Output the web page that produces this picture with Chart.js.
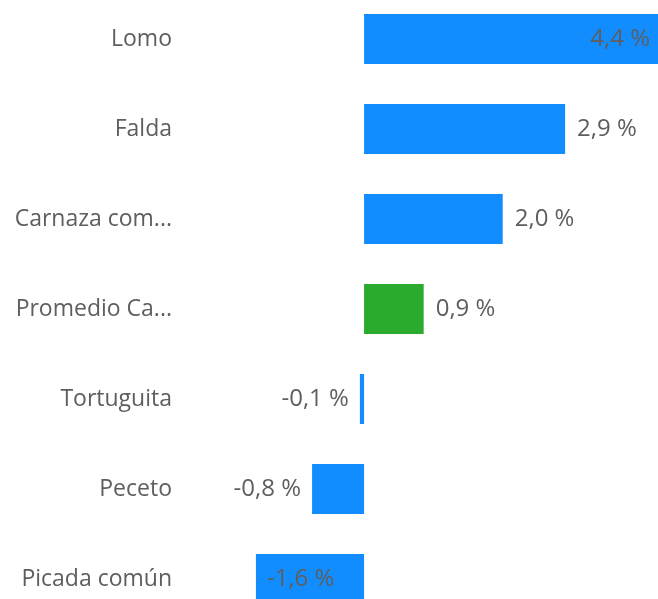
<!DOCTYPE html>
<html>
<head>
<meta charset="utf-8">
<script src="https://cdn.jsdelivr.net/npm/chart.js@4/dist/chart.umd.min.js"></script>
<style>
  html, body { margin: 0; padding: 0; background: #fff; overflow: hidden; }
  #marco { position: absolute; left: 0; top: -6px; width: 658px; height: 630px; }
</style>
</head>
<body>
<div id="marco"><canvas id="grafico" width="658" height="630"></canvas></div>
<script>
// Datos del gráfico
var categorias = ['Lomo', 'Falda', 'Carnaza com...', 'Promedio Ca...', 'Tortuguita', 'Peceto', 'Picada común'];
var variaciones = [4.4, 2.9, 2.0, 0.86, -0.06, -0.75, -1.56];

var azul = '#118DFF';
var verde = '#2AAB2E';
var gris = '#605E5C';
var fuente = '"Open Sans", "Noto Sans", sans-serif';

// Formato "4,4 %"
function formatear(v) {
    var r = Math.round(Math.abs(v) * 10) / 10;
    return (v < 0 ? '-' : '') + r.toFixed(1).replace('.', ',') + ' %';
}

// Etiquetas de datos (fuera de la barra, o dentro si no caben)
var etiquetas = {
    id: 'etiquetas',
    afterDatasetsDraw: function(chart) {
        var ctx = chart.ctx;
        var area = chart.chartArea;
        var meta = chart.getDatasetMeta(0);
        ctx.save();
        ctx.font = '24px ' + fuente;
        ctx.fillStyle = gris;
        ctx.textBaseline = 'middle';
        meta.data.forEach(function(barra, i) {
            var v = variaciones[i];
            var texto = formatear(v);
            var w = ctx.measureText(texto).width;
            if (v >= 0) {
                var x = barra.x + 12;
                if (x + w > area.right) {
                    ctx.textAlign = 'right';
                    ctx.fillText(texto, Math.min(barra.x, area.right) - 8, barra.y);
                } else {
                    ctx.textAlign = 'left';
                    ctx.fillText(texto, x, barra.y);
                }
            } else {
                var x2 = barra.x - 11;
                if (x2 - w < area.left) {
                    ctx.textAlign = 'left';
                    ctx.fillText(texto, Math.max(barra.x, area.left) + 11, barra.y);
                } else {
                    ctx.textAlign = 'right';
                    ctx.fillText(texto, x2, barra.y);
                }
            }
        });
        ctx.restore();
    }
};

new Chart('grafico', {
    type: 'bar',
    data: {
        labels: categorias,
        datasets: [{
            data: variaciones,
            backgroundColor: function(c) {
                return categorias[c.dataIndex].indexOf('Promedio') === 0 ? verde : azul;
            },
            borderWidth: 0,
            categoryPercentage: 1,
            barPercentage: 0.556
        }]
    },
    options: {
        indexAxis: 'y',
        responsive: false,
        animation: false,
        layout: { padding: 0 },
        plugins: {
            legend: { display: false },
            tooltip: { enabled: false }
        },
        scales: {
            x: {
                display: false,
                min: -2.655,
                max: 4.24
            },
            y: {
                grid: { display: false, drawTicks: false },
                border: { display: false },
                ticks: {
                    color: gris,
                    padding: 8,
                    font: { size: 23, family: fuente }
                },
                afterFit: function(scale) {
                    scale.width = 180;
                    scale.paddingTop = 0;
                    scale.paddingBottom = 0;
                }
            }
        }
    },
    plugins: [etiquetas]
});
</script>
</body>
</html>
